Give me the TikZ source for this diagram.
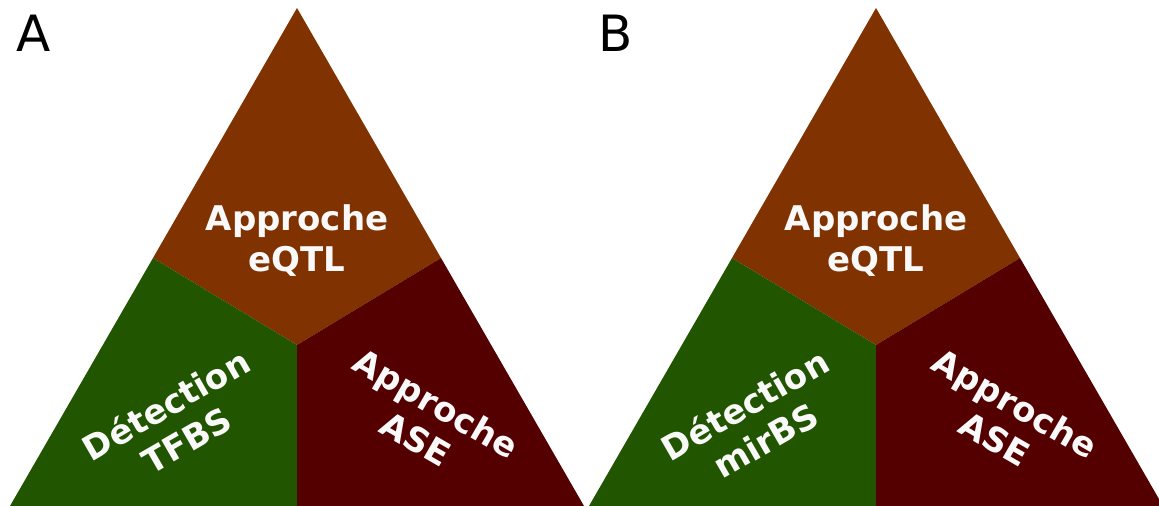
\documentclass[tikz,border=0pt]{standalone}
\usepackage{fontspec}
\setsansfont{DejaVu Sans}

\definecolor{eqtlbrown}{HTML}{803300}
\definecolor{bsgreen}{HTML}{225500}
\definecolor{asered}{HTML}{550000}
\definecolor{labelwhite}{HTML}{F9F9F9}

\begin{document}
\begin{tikzpicture}[
    x=0.5pt, y=-0.5pt,
    part/.style={font=\sffamily\bfseries\fontsize{17}{20.5}\selectfont, text=labelwhite, align=center}, % Style for the labels inside the triangles
    panel/.style={font=\sffamily\fontsize{25}{30}\selectfont, text=black}
]

    \useasboundingbox (0,0) rectangle (1159,506);
    \clip (0,0) rectangle (1159,506);

    % --- PANEL A ---
    \begin{scope}[shift={(297,0)}]
        \coordinate (A0) at (0,8);        % Apex
        \coordinate (A1) at (-287,506);   % Bottom Left
        \coordinate (A2) at (287,506);    % Bottom Right
        \coordinate (AL) at (-144,258);   % Left edge middle
        \coordinate (AR) at (144,258);    % Right edge middle
        \coordinate (AC) at (0,345);      % Centre
        \coordinate (AB) at (0,506);      % Bottom middle

        \fill[eqtlbrown] (A0) -- (AR) -- (AC) -- (AL) -- cycle;
        \fill[bsgreen] (AL) -- (AC) -- (AB) -- (A1) -- cycle;
        \fill[asered] (AR) -- (AC) -- (AB) -- (A2) -- cycle;

        \node[part] (eqtlA) at (0,241) {Approche\\eQTL};
        \node[part, rotate=30] (tfbsA) at (-121,422) {Détection\\TFBS};
        \node[part, rotate=-30] (aseA) at (129,421) {Approche\\ASE};
    \end{scope}

    \node[panel] (labA) at (34,33) {A};

    % --- PANEL B ---
    \begin{scope}[shift={(876,0)}]
        \coordinate (B0) at (0,8);        % Apex
        \coordinate (B1) at (-287,506);   % Bottom Left
        \coordinate (B2) at (287,506);    % Bottom Right (cut by the border)
        \coordinate (BL) at (-144,258);   % Left edge middle
        \coordinate (BR) at (144,258);    % Right edge middle
        \coordinate (BC) at (0,345);      % Centre
        \coordinate (BB) at (0,506);      % Bottom middle

        \fill[eqtlbrown] (B0) -- (BR) -- (BC) -- (BL) -- cycle;
        \fill[bsgreen] (BL) -- (BC) -- (BB) -- (B1) -- cycle;
        \fill[asered] (BR) -- (BC) -- (BB) -- (B2) -- cycle;

        \node[part] (eqtlB) at (0,241) {Approche\\eQTL};
        \node[part, rotate=30] (mirbsB) at (-121,422) {Détection\\mirBS};
        \node[part, rotate=-30] (aseB) at (129,421) {Approche\\ASE};
    \end{scope}

    \node[panel] (labB) at (616,33) {B};

\end{tikzpicture}
\end{document}
